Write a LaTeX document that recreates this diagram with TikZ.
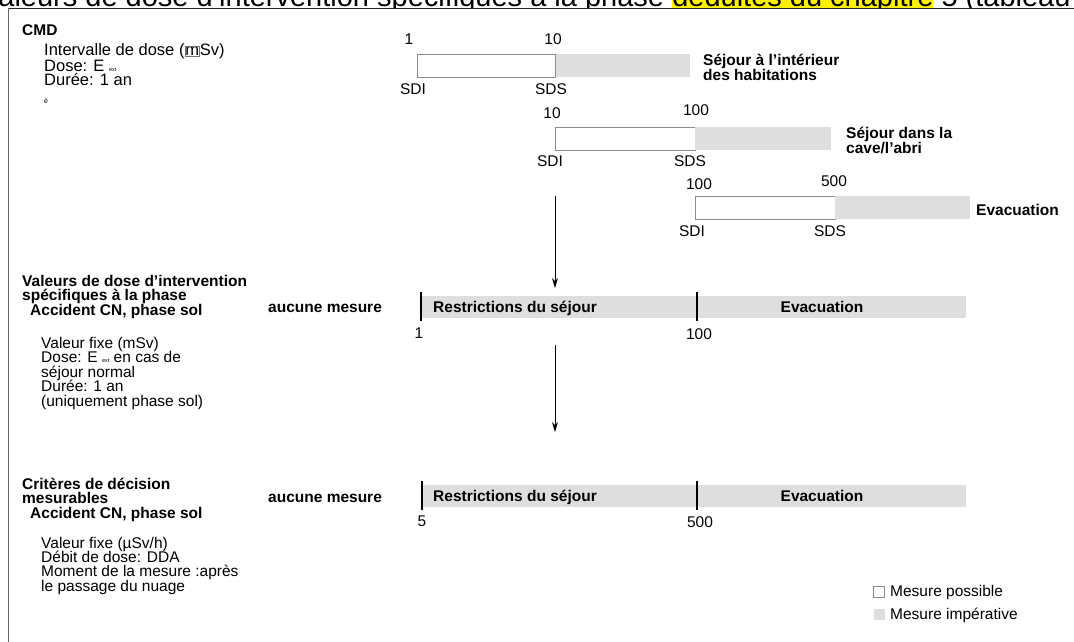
\documentclass[tikz,border=0pt]{standalone}
\usepackage{fontspec}
\setmainfont{Liberation Sans}
\usetikzlibrary{arrows.meta}
\newcommand\rf{\fontsize{15.5}{14.5}\selectfont}
\newcommand\tf{\fontsize{16.5}{14.5}\selectfont}
\newcommand\bx{\bfseries\fontsize{15.5}{14.5}\selectfont}
\newcommand\extsub{{\fontsize{5.5}{6}\selectfont ext}}
\newcommand\boxm{{\setlength\fboxsep{0.3pt}\setlength\fboxrule{0.5pt}\textcolor{black!55}{\fbox{\textcolor{black}{m}}}}}
\begin{document}
\begin{tikzpicture}[x=1pt,y=-1pt,
  t/.style={anchor=base west,inner sep=0,font=\rf},
  tt/.style={anchor=base west,inner sep=0,font=\tf},
  b/.style={anchor=base west,inner sep=0,font=\bx},
  bc/.style={anchor=base,inner sep=0,font=\bx},
  c/.style={anchor=base,inner sep=0,font=\rf},
  wbox/.style={draw=black!45,fill=white,line width=0.8,inner sep=0,anchor=north west},
  gbox/.style={fill=black!13,inner sep=0,anchor=north west},
  tick/.style={line width=2.4},
  arr/.style={-{Stealth[length=10pt,width=6pt]},line width=0.9},
  frame/.style={line width=1.6,draw=black!85}]
\useasboundingbox (0,0) rectangle (1074,642);
% cut title
\begin{scope}
\clip (0,0) rectangle (1074,8.5);
\node[anchor=base west,inner sep=0,font=\fontsize{29}{30}\selectfont] (title) at (-19,7)
 {Valeurs de dose d’intervention spécifiques à la phase {\setlength\fboxsep{0pt}\colorbox{yellow}{\strut déduites du chapitre}} 5 (tableau};
\end{scope}
\draw[frame] (8,8.5) -- (1074,8.5);
\draw[black!60,line width=1] (8,8.5) -- (8,642);
% CMD block
\node[b] (cmd) at (22,36) {CMD};
\node[tt] (cmd1) at (44,56) {Intervalle de dose (\boxm Sv)};
\node[tt] (cmd2) at (44,71) {Dose: E \extsub};
\node[tt] (cmd3) at (44,85) {Durée: 1 an};
\node[anchor=base west,inner sep=0,font=\fontsize{7}{7}\selectfont] (cmd4) at (44,103) {è};
% row 1
\node[wbox,minimum width=138,minimum height=23] (w1) at (417,54) {};
\node[gbox,minimum width=134,minimum height=23] (g1) at (556,54) {};
\node[c] (n1a) at (409,44.5) {1};
\node[c] (n1b) at (553,44.5) {10};
\node[c] (sdi1) at (413,94.5) {SDI};
\node[c] (sds1) at (551,94.5) {SDS};
\node[b] (l1a) at (703,66) {Séjour à l’intérieur};
\node[b] (l1b) at (703,81) {des habitations};
% row 2
\node[wbox,minimum width=140,minimum height=23] (w2) at (555,127) {};
\node[gbox,minimum width=136,minimum height=23] (g2) at (695,127) {};
\node[c] (n2a) at (552,118.5) {10};
\node[c] (n2b) at (696,115.5) {100};
\node[c] (sdi2) at (550,166) {SDI};
\node[c] (sds2) at (690,166) {SDS};
\node[b] (l2a) at (846,138) {Séjour dans la};
\node[b] (l2b) at (846,153) {cave/l’abri};
% row 3
\node[wbox,minimum width=140,minimum height=23] (w3) at (695,196) {};
\node[gbox,minimum width=135,minimum height=23] (g3) at (835,196) {};
\node[c] (n3a) at (699,189.5) {100};
\node[c] (n3b) at (834,186) {500};
\node[c] (sdi3) at (692,236) {SDI};
\node[c] (sds3) at (830,236) {SDS};
\node[b] (l3) at (976,215) {Evacuation};
% arrow 1
\coordinate (a1s) at (555,196);
\coordinate (a1e) at (555,288);
\draw[arr] (a1s) -- (a1e);
% section 2
\node[b] (h2a) at (22,286) {Valeurs de dose d’intervention};
\node[b] (h2b) at (22,300) {spécifiques à la phase};
\node[b] (h2c) at (30,315) {Accident CN, phase sol};
\node[b] (am2) at (268,312) {aucune mesure};
\node[gbox,minimum width=545,minimum height=22] (bar2) at (421,296) {};
\draw[tick] (421,292) -- (421,321);
\draw[tick] (697,292) -- (697,321);
\node[b] (rs2) at (433,312) {Restrictions du séjour};
\node[bc] (ev2) at (822,312) {Evacuation};
\node[c] (v2a) at (419,338.5) {1};
\node[c] (v2b) at (699,339.5) {100};
\node[t] (p2a) at (41,348) {Valeur fixe (mSv)};
\node[t] (p2b) at (41,362.5) {Dose: E \extsub{} en cas de};
\node[t] (p2c) at (41,377) {séjour normal};
\node[t] (p2d) at (41,391.5) {Durée: 1 an};
\node[t] (p2e) at (41,406) {(uniquement phase sol)};
% arrow 2
\coordinate (a2s) at (555,345);
\coordinate (a2e) at (555,432);
\draw[arr] (a2s) -- (a2e);
% section 3
\node[b] (h3a) at (22,489) {Critères de décision};
\node[b] (h3b) at (22,503) {mesurables};
\node[b] (h3c) at (30,518) {Accident CN, phase sol};
\node[b] (am3) at (268,502) {aucune mesure};
\node[gbox,minimum width=545,minimum height=22] (bar3) at (421,485) {};
\draw[tick] (422,481) -- (422,510);
\draw[tick] (697,481) -- (697,510);
\node[b] (rs3) at (433,501) {Restrictions du séjour};
\node[bc] (ev3) at (822,501) {Evacuation};
\node[c] (v3a) at (422,526.5) {5};
\node[c] (v3b) at (700,527.5) {500};
\node[t] (p3a) at (41,548) {Valeur fixe (µSv/h)};
\node[t] (p3b) at (41,562) {Débit de dose: DDA};
\node[t] (p3c) at (41,576.5) {Moment de la mesure :après};
\node[t] (p3d) at (41,591) {le passage du nuage};
% legend
\node[wbox,minimum width=11,minimum height=11] (lgw) at (873,586) {};
\node[t] (lgwt) at (890,596) {Mesure possible};
\node[gbox,minimum width=11,minimum height=11] (lgg) at (874,609) {};
\node[t] (lggt) at (890,619) {Mesure impérative};
\end{tikzpicture}
\end{document}
